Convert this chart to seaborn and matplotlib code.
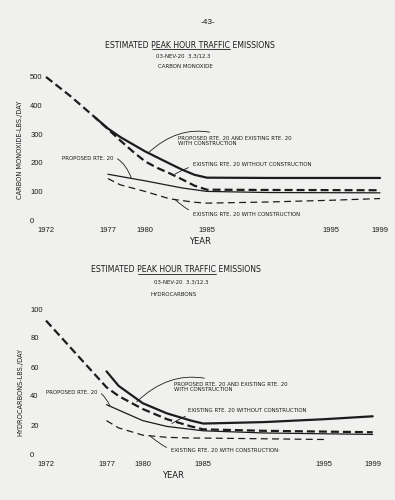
# Estimated peak hour traffic emissions, 03-NEV-20 (page 43 of the report)
# two stacked line charts: carbon monoxide and hydrocarbons

import numpy as np
import pandas as pd
import seaborn as sns
import matplotlib
matplotlib.use("Agg")
import matplotlib.pyplot as plt
from matplotlib.lines import Line2D

# ---- carbon monoxide (lbs/day) ----
co_years_without = [1972, 1974, 1976, 1977, 1978, 1979, 1980, 1981, 1982, 1983, 1984, 1985, 1990, 1999]
co_without = [500, 432, 357, 318, 278, 240, 205, 182, 163, 142, 120, 106, 105, 104]

co_years_with_all = [1976, 1977, 1978, 1980, 1982, 1983, 1984, 1985, 1990, 1999]
co_with_all = [357, 320, 290, 240, 197, 176, 158, 148, 147, 147]

co_years_proposed = [1977, 1980, 1983, 1985, 1990, 1999]
co_proposed = [160, 137, 112, 100, 96, 95]

co_years_existing_with = [1977, 1978, 1980, 1982, 1984, 1985, 1990, 1995, 1999]
co_existing_with = [145, 123, 100, 74, 62, 59, 63, 69, 75]

# ---- hydrocarbons (lbs/day) ----
hc_years_without = [1972, 1977, 1978, 1980, 1982, 1984, 1985, 1990, 1999]
hc_without = [92, 46, 40, 31, 24, 19, 17, 16, 15]

hc_years_with_all = [1977, 1978, 1980, 1982, 1984, 1985, 1990, 1995, 1999]
hc_with_all = [57, 47, 35, 28, 23, 21, 22, 24, 26]

hc_years_proposed = [1977, 1980, 1982, 1984, 1985, 1990, 1999]
hc_proposed = [34, 23, 19, 17, 16, 14.5, 13.5]

hc_years_existing_with = [1977, 1978, 1980, 1982, 1984, 1985, 1990, 1995]
hc_existing_with = [23, 18, 13, 11.5, 11, 11, 10.5, 10]

year_ticks = [1972, 1977, 1980, 1985, 1995, 1999]
co_ticks = [0, 100, 200, 300, 400, 500]
hc_ticks = [0, 20, 40, 60, 80, 100]

ink = "#1c1c1c"
paper = "#f0f0ee"
W, H = 395, 500

sns.set_style("white")
plt.rcParams["font.family"] = ["DejaVu Sans"]
narrow = ["Liberation Sans", "DejaVu Sans"]

# thick solid, thick dashed, thin solid, thin dashed
styles = {
    "with_all": dict(linewidth=1.6, linestyle="-"),
    "without": dict(linewidth=1.6, linestyle=(0, (3.6, 1.8))),
    "proposed": dict(linewidth=0.9, linestyle="-"),
    "existing_with": dict(linewidth=0.9, linestyle=(0, (5.5, 3.5))),
}


def px(x, y):
    # page pixel -> figure fraction
    return (x / W, 1 - y / H)


def make_table(series):
    frames = []
    for name, (yrs, vals) in series.items():
        frames.append(pd.DataFrame({"year": yrs, "value": vals, "series": name}))
    return pd.concat(frames, ignore_index=True)


def draw_panel(ax, table, ticks, ylim, xlim):
    for name, sub in table.groupby("series"):
        sns.lineplot(data=sub, x="year", y="value", ax=ax, color=ink,
                     estimator=None, sort=True, **styles[name])
    ax.set_xlim(*xlim)
    ax.set_ylim(*ylim)
    ax.set_xticks(year_ticks)
    ax.set_yticks(ticks)
    ax.tick_params(length=0, colors=ink, labelsize=5.5, pad=2)
    # numbers on the y axis start at a common left edge on the page
    ax.tick_params(axis="y", pad=10.5)
    for lab in ax.get_yticklabels():
        lab.set_ha("left")
    for lab in ax.get_xticklabels() + ax.get_yticklabels():
        lab.set_family(narrow)
    ax.set_xlabel("")
    ax.set_ylabel("")
    ax.set_facecolor("none")
    sns.despine(ax=ax, left=True, bottom=True)


def note(ax, text, target, at, rad, ha="left"):
    ax.annotate(text, xy=target, xycoords="data", xytext=px(*at),
                textcoords="figure fraction", ha=ha, va="center",
                fontsize=3.9, color=ink, linespacing=1.15,
                arrowprops=dict(arrowstyle="-", color=ink, lw=0.6,
                                connectionstyle="arc3,rad=%s" % rad,
                                shrinkA=1, shrinkB=0))


def title(fig, x, y):
    # title with "PEAK HOUR TRAFFIC" underlined, as on the page
    pre, mid, post = "ESTIMATED ", "PEAK HOUR TRAFFIC", " EMISSIONS"
    r = fig.canvas.get_renderer()
    kw = dict(fontsize=5.6, color=ink, va="center")
    probe = fig.text(0, 0, pre + mid + post, **kw)
    total = probe.get_window_extent(r).width
    probe.set_text(pre)
    w_pre = probe.get_window_extent(r).width
    probe.set_text(pre + mid)
    w_mid = probe.get_window_extent(r).width
    probe.remove()
    x0 = x - total / 2
    fig.text(x0 / W, 1 - y / H, pre + mid + post, ha="left", **kw)
    uy = 1 - (y + 4.3) / H
    fig.add_artist(Line2D([(x0 + w_pre + 1) / W, (x0 + w_mid) / W], [uy, uy],
                          color=ink, lw=0.6, transform=fig.transFigure))


fig = plt.figure(figsize=(W / 100, H / 100), dpi=100, facecolor=paper)

# ---- top panel ----
ax1 = fig.add_axes([44.8 / W, 1 - 224.3 / H, (392.4 - 44.8) / W, (224.3 - 74.1) / H])
co_table = make_table({
    "without": (co_years_without, co_without),
    "with_all": (co_years_with_all, co_with_all),
    "proposed": (co_years_proposed, co_proposed),
    "existing_with": (co_years_existing_with, co_existing_with),
})
draw_panel(ax1, co_table, co_ticks, (-15, 510), (1971.9, 2000))

note(ax1, "PROPOSED RTE. 20 AND EXISTING RTE. 20\nWITH CONSTRUCTION",
     (1980.3, 236), (178, 141), 0.35)
note(ax1, "EXISTING RTE. 20 WITHOUT CONSTRUCTION", (1982.4, 160), (193, 164), 0.2)
note(ax1, "PROPOSED RTE. 20", (1978.9, 146), (113, 158), -0.5, ha="right")
note(ax1, "EXISTING RTE. 20 WITH CONSTRUCTION", (1982.4, 73), (193, 215), -0.3)

fig.text(*px(208, 22), "-43-", ha="center", va="center", fontsize=6,
         color=ink, family=narrow)
title(fig, 190, 45)
fig.text(*px(183, 56), "03-NEV-20  3.3/12.3", ha="center", va="center",
         fontsize=3.9, color=ink)
fig.text(*px(185, 67), "CARBON MONOXIDE", ha="center", va="center",
         fontsize=4, color=ink)
fig.text(*px(20, 150), "CARBON MONOXIDE-LBS./DAY", rotation=90, ha="center",
         va="center", fontsize=4.8, color=ink)
fig.text(*px(200, 241), "YEAR", ha="center", va="center", fontsize=6, color=ink)

# ---- bottom panel ----
ax2 = fig.add_axes([44.8 / W, 1 - 458.35 / H, (384.8 - 44.8) / W, (458.35 - 306.1) / H])
hc_table = make_table({
    "without": (hc_years_without, hc_without),
    "with_all": (hc_years_with_all, hc_with_all),
    "proposed": (hc_years_proposed, hc_proposed),
    "existing_with": (hc_years_existing_with, hc_existing_with),
})
draw_panel(ax2, hc_table, hc_ticks, (-3, 102), (1971.9, 2000))

note(ax2, "PROPOSED RTE. 20 AND EXISTING RTE. 20\nWITH CONSTRUCTION",
     (1979.5, 36), (174, 387), 0.35)
note(ax2, "EXISTING RTE. 20 WITHOUT CONSTRUCTION", (1982.4, 21), (188, 410), 0.2)
note(ax2, "PROPOSED RTE. 20", (1977.3, 33), (97, 392), -0.5, ha="right")
note(ax2, "EXISTING RTE. 20 WITH CONSTRUCTION\u00b7", (1980.6, 12.5), (171, 450), -0.3)

title(fig, 176, 270)
fig.text(*px(181, 282), "03-NEV-20  3.3/12.3", ha="center", va="center",
         fontsize=3.9, color=ink)
fig.text(*px(174, 294), "HYDROCARBONS", ha="center", va="center",
         fontsize=4, color=ink)
fig.text(*px(20, 392), "HYDROCARBONS-LBS./DAY", rotation=90, ha="center",
         va="center", fontsize=4.8, color=ink)
fig.text(*px(173, 475), "YEAR", ha="center", va="center", fontsize=6, color=ink)

fig.savefig("out.png", dpi=100, facecolor=paper)
